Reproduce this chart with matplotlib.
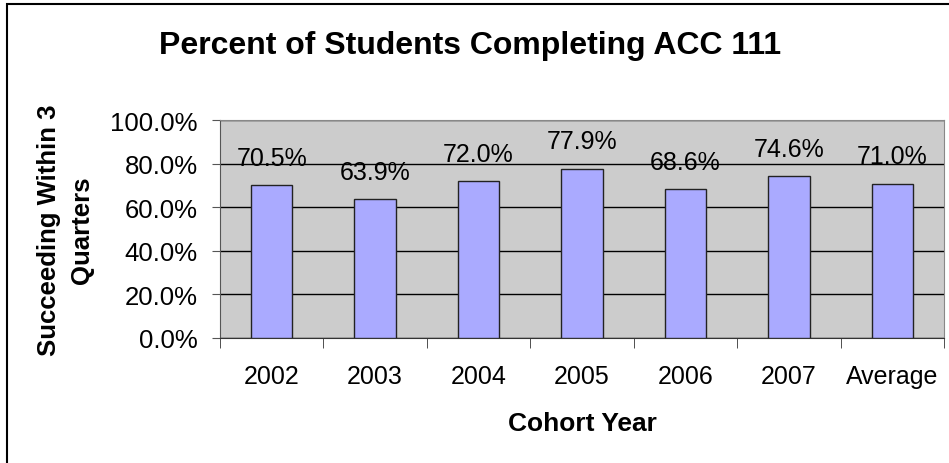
import matplotlib.pyplot as plt
from matplotlib.ticker import PercentFormatter

plt.rcParams['font.family'] = ['Liberation Sans', 'DejaVu Sans']

# data
years = ['2002', '2003', '2004', '2005', '2006', '2007', 'Average']
pct = [70.5, 63.9, 72.0, 77.9, 68.6, 74.6, 71.0]

fig = plt.figure(figsize=(9.49, 4.64), dpi=100)
# outer chart border (right and bottom edges fall outside the image)
fig.patches.append(plt.Rectangle((0.0075, -0.1), 1.2, 1.09, transform=fig.transFigure,
                                 fill=False, edgecolor='black', linewidth=1.5))

ax = fig.add_axes([0.2318, 0.2694, 0.763, 0.4688])
ax.set_facecolor('#CCCCCC')

x = range(len(years))
bars = ax.bar(x, pct, width=0.4, color='#AAAAFF', edgecolor='#222222', linewidth=1, zorder=3)
for xi, v in zip(x, pct):
    ax.annotate('%.1f%%' % v, (xi, v), xytext=(0, 14.5), textcoords='offset points',
                ha='center', va='baseline', fontsize=18, zorder=4)

ax.set_xlim(-0.5, len(years) - 0.5)
ax.set_ylim(0, 100)
ax.set_yticks([0, 20, 40, 60, 80, 100])
ax.yaxis.set_major_formatter(PercentFormatter(decimals=1))
ax.grid(axis='y', color='black', linewidth=1, zorder=1)

ax.set_xticks(x)
ax.set_xticklabels(years)
ax.set_xticks([i - 0.5 for i in range(len(years) + 1)], minor=True)
ax.tick_params(axis='x', which='major', length=0, pad=19, labelsize=18)
ax.tick_params(axis='x', which='minor', length=7, color='#333333', direction='out')
ax.tick_params(axis='y', length=6, color='#555555', labelsize=18.5, pad=10)

for side in ['top', 'right']:
    ax.spines[side].set_color('#888888')
ax.spines['left'].set_color('#555555')
ax.spines['bottom'].set_color('#333333')

ax.set_xlabel('Cohort Year', fontsize=19, fontweight='bold', labelpad=16)
ax.set_ylabel('Succeeding Within 3\nQuarters', fontsize=18.5, fontweight='bold', labelpad=12,
              linespacing=1.45)

fig.text(0.495, 0.9, 'Percent of Students Completing ACC 111', ha='center', va='center',
         fontsize=23, fontweight='bold')

fig.savefig('out.png', dpi=100)
